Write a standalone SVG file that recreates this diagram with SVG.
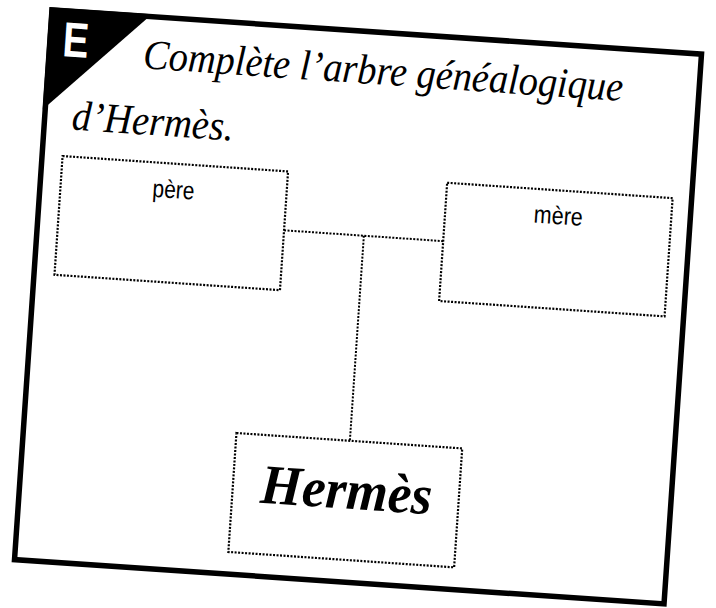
<svg xmlns="http://www.w3.org/2000/svg" width="716" height="608" viewBox="0 0 716 608">
<style>
.card{fill:#fff;stroke:#000;stroke-width:5.5}
.box{fill:none;stroke:#000;stroke-width:2.2;stroke-dasharray:2 1.5}
.conn{fill:none;stroke:#000;stroke-width:2;stroke-dasharray:2 1.5}
.title{font-family:"Liberation Serif","DejaVu Serif",serif;font-style:italic;font-size:42px;fill:#000}
.lbl{font-family:"Liberation Sans",Arial,sans-serif;font-size:25px;fill:#000;text-anchor:middle}
.name{font-family:"Liberation Serif","DejaVu Serif",serif;font-style:italic;font-weight:bold;font-size:56px;fill:#000;text-anchor:middle}
.badge{font-family:"Liberation Sans",Arial,sans-serif;font-weight:bold;font-size:49px;fill:#fff;text-anchor:middle}
</style>
<rect width="716" height="608" fill="#fff"/>
<g transform="rotate(3.9 358 307)">
  <g id="card">
    <rect class="card" x="32.5" y="31.4" width="651" height="551"/>
    <polygon points="30,29 132.5,29 30,131.5" fill="#000"/>
    <text class="badge" x="58.4" y="76.8" textLength="26" lengthAdjust="spacingAndGlyphs">E</text>
    <text class="title" x="126.7" y="83.5" textLength="481" lengthAdjust="spacingAndGlyphs">Complète l’arbre généalogique</text>
    <text class="title" x="59.8" y="149.5" textLength="162" lengthAdjust="spacingAndGlyphs">d’Hermès.</text>
  </g>
  <g id="connectors">
    <path class="conn" d="M279,235.5 H438.5 M359,235.5 V441"/>
  </g>
  <g id="pere">
    <rect class="box" x="53" y="176.5" width="226" height="119"/>
    <text class="lbl" x="166" y="211" textLength="42" lengthAdjust="spacingAndGlyphs">père</text>
  </g>
  <g id="mere">
    <rect class="box" x="438.5" y="177" width="226" height="118.5"/>
    <text class="lbl" x="551.7" y="210.8" textLength="49" lengthAdjust="spacingAndGlyphs">mère</text>
  </g>
  <g id="hermes">
    <rect class="box" x="245.3" y="441" width="226.3" height="119.2"/>
    <text class="name" x="359" y="509" textLength="172" lengthAdjust="spacingAndGlyphs">Hermès</text>
  </g>
</g>
</svg>
